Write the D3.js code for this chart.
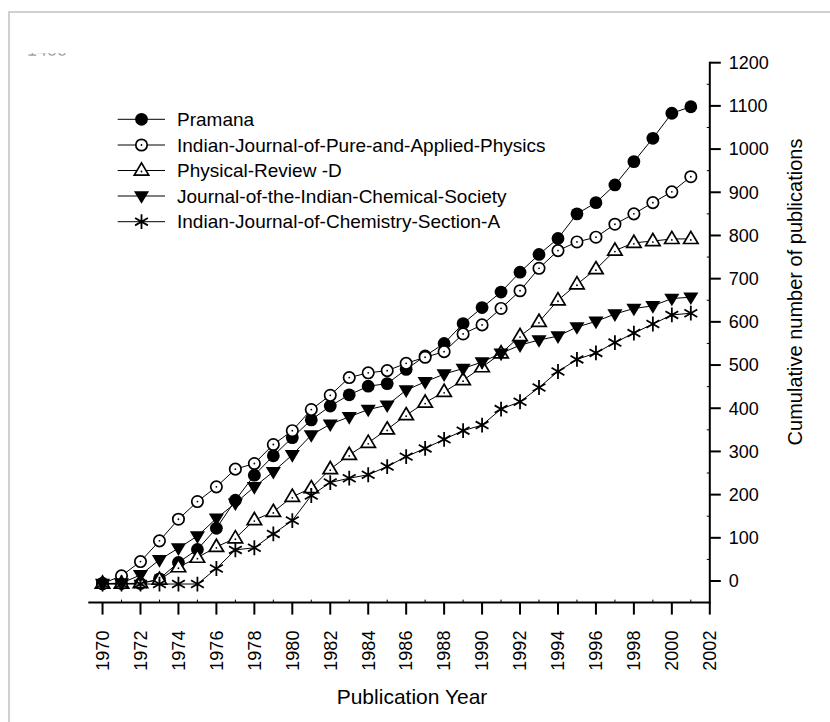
<!DOCTYPE html>
<html>
<head>
<meta charset="utf-8">
<script src="https://cdn.jsdelivr.net/npm/d3@7"></script>
<style>
  html, body { margin: 0; padding: 0; background: #fff; }
  svg { display: block; }
  text { font-family: "Liberation Sans", Arial, sans-serif; fill: #000; }
</style>
</head>
<body>
<svg id="chart" width="830" height="722"></svg>
<script>
// ---- data ----
const years = d3.range(1970, 2002);
const seriesNames = [
  "Pramana",
  "Indian-Journal-of-Pure-and-Applied-Physics",
  "Physical-Review -D",
  "Journal-of-the-Indian-Chemical-Society",
  "Indian-Journal-of-Chemistry-Section-A"
];
const pramana = [-6, -6, -6, 5, 43, 73, 122, 187, 245, 290, 332, 373, 405, 431, 451, 457,
  490, 521, 550, 596, 633, 669, 715, 756, 793, 850, 876, 917, 971, 1025, 1083, 1098];
const ijpap = [-6, 12, 45, 93, 143, 184, 218, 259, 272, 316, 348, 397, 430, 471, 482, 487,
  504, 518, 531, 572, 593, 631, 672, 724, 765, 785, 796, 826, 850, 876, 901, 936];
const prd = [-6, -6, -5, 3, 32, 54, 79, 99, 141, 160, 195, 215, 259, 292, 320, 351,
  384, 413, 438, 465, 495, 527, 567, 600, 650, 687, 722, 765, 783, 787, 792, 792];
const jics = [-6, -5, 14, 49, 76, 104, 145, 180, 218, 253, 292, 338, 363, 380, 397, 407,
  442, 461, 479, 492, 507, 527, 546, 558, 567, 588, 601, 618, 631, 637, 654, 657];
const ijca = [-7, -7, -7, -7, -7, -7, 29, 72, 77, 109, 140, 198, 228, 238, 246, 265,
  288, 307, 328, 348, 361, 398, 415, 448, 485, 513, 528, 552, 574, 595, 616, 620];
const markerTypes = ["filledCircle", "openCircle", "openTriangle", "filledDown", "asterisk"];
const yTicks = d3.range(0, 1201, 100);
const xTicks = d3.range(1970, 2003, 2);
const xTitle = "Publication Year";
const yTitle = "Cumulative number of publications";

const allSeries = [pramana, ijpap, prd, jics, ijca];

// ---- layout ----
const svg = d3.select("#chart");
const x = d3.scaleLinear().domain([1969.25, 2002]).range([88.3, 709.8]);
const y = d3.scaleLinear().domain([-50, 1200]).range([602.6, 62.7]);

// light frame
svg.append("rect").attr("x", 9).attr("y", 12).attr("width", 900).attr("height", 800)
  .attr("fill", "none").attr("stroke", "#d0d0d0").attr("stroke-width", 2);

// clipped top label remnant
const clip = svg.append("defs").append("clipPath").attr("id", "topclip");
clip.append("rect").attr("x", 0).attr("y", 53.2).attr("width", 120).attr("height", 2.5);
svg.append("text").attr("x", 27).attr("y", 55.5).attr("clip-path", "url(#topclip)")
  .style("font-size", "18px").style("fill", "#999").text("1400");

// ---- marker drawing ----
function drawMarker(g, type, cx, cy) {
  if (type === "filledCircle") {
    g.append("circle").attr("cx", cx).attr("cy", cy).attr("r", 6.4).attr("fill", "#000");
  } else if (type === "openCircle") {
    g.append("circle").attr("cx", cx).attr("cy", cy).attr("r", 5.7)
      .attr("fill", "#fff").attr("stroke", "#000").attr("stroke-width", 1.7);
    g.append("circle").attr("cx", cx).attr("cy", cy).attr("r", 0.9).attr("fill", "#000");
  } else if (type === "openTriangle") {
    const s = 7.6;
    const pts = [[cx, cy - s], [cx + s * 0.95, cy + s * 0.6], [cx - s * 0.95, cy + s * 0.6]];
    g.append("path").attr("d", d3.line()(pts) + "Z")
      .attr("fill", "#fff").attr("stroke", "#000").attr("stroke-width", 1.7).attr("stroke-linejoin", "miter");
    g.append("circle").attr("cx", cx).attr("cy", cy + 1).attr("r", 0.9).attr("fill", "#000");
  } else if (type === "filledDown") {
    const s = 7.8;
    const pts = [[cx, cy + s], [cx + s * 0.97, cy - s * 0.62], [cx - s * 0.97, cy - s * 0.62]];
    g.append("path").attr("d", d3.line()(pts) + "Z").attr("fill", "#000");
  } else if (type === "asterisk") {
    const r = 7.4, t = r / 2, u = t * Math.sqrt(3);
    const p = d3.path();
    p.moveTo(cx, cy - r); p.lineTo(cx, cy + r);
    p.moveTo(cx - u, cy - t); p.lineTo(cx + u, cy + t);
    p.moveTo(cx - u, cy + t); p.lineTo(cx + u, cy - t);
    g.append("path").attr("d", p.toString()).attr("stroke", "#000").attr("stroke-width", 1.8).attr("fill", "none");
  }
}

// ---- series ----
const line = d3.line().x(d => x(d[0])).y(d => y(d[1]));
allSeries.forEach((vals, i) => {
  const g = svg.append("g").attr("class", "series");
  const pts = years.map((yr, j) => [yr, vals[j]]);
  g.append("path").attr("d", line(pts)).attr("fill", "none").attr("stroke", "#000").attr("stroke-width", 1);
  pts.forEach(p => drawMarker(g, markerTypes[i], x(p[0]), y(p[1])));
});

// ---- axes ----
// x axis
const xAxisY = y(-50);
svg.append("line").attr("x1", x(1969.25)).attr("x2", x(2002) + 1).attr("y1", xAxisY).attr("y2", xAxisY)
  .attr("stroke", "#000").attr("stroke-width", 2);
xTicks.forEach(t => {
  svg.append("line").attr("x1", x(t)).attr("x2", x(t)).attr("y1", xAxisY).attr("y2", xAxisY + 12)
    .attr("stroke", "#000").attr("stroke-width", 2);
  svg.append("text").attr("transform", `translate(${x(t)},${xAxisY + 28}) rotate(-90)`)
    .attr("text-anchor", "end").attr("dy", "0.35em").style("font-size", "18px").text(t);
});
d3.range(1971, 2002, 2).forEach(t => {
  svg.append("line").attr("x1", x(t)).attr("x2", x(t)).attr("y1", xAxisY).attr("y2", xAxisY - 3)
    .attr("stroke", "#000").attr("stroke-width", 1);
});
// y axis
const yAxisX = x(2002);
svg.append("line").attr("x1", yAxisX).attr("x2", yAxisX).attr("y1", y(1200) - 1).attr("y2", xAxisY)
  .attr("stroke", "#000").attr("stroke-width", 2);
yTicks.forEach(t => {
  svg.append("line").attr("x1", yAxisX).attr("x2", yAxisX + 11).attr("y1", y(t)).attr("y2", y(t))
    .attr("stroke", "#000").attr("stroke-width", 2);
  svg.append("text").attr("x", yAxisX + 19).attr("y", y(t)).attr("dy", "0.35em")
    .style("font-size", "18px").text(t);
});
d3.range(-50, 1200, 100).forEach(t => {
  svg.append("line").attr("x1", yAxisX).attr("x2", yAxisX - 3).attr("y1", y(t)).attr("y2", y(t))
    .attr("stroke", "#000").attr("stroke-width", 1);
});

// titles
svg.append("text").attr("x", 412).attr("y", 704).attr("text-anchor", "middle")
  .style("font-size", "21px").text(xTitle);
svg.append("text").attr("transform", `translate(802,292) rotate(-90)`).attr("text-anchor", "middle")
  .style("font-size", "20px").text(yTitle);

// ---- legend ----
const legendY = [119.3, 145, 170.5, 196, 221.7];
seriesNames.forEach((name, i) => {
  const g = svg.append("g");
  const ly = legendY[i];
  g.append("line").attr("x1", 117.7).attr("x2", 165).attr("y1", ly).attr("y2", ly)
    .attr("stroke", "#000").attr("stroke-width", 1);
  drawMarker(g, markerTypes[i], 141.5, ly);
  g.append("text").attr("x", 177).attr("y", ly).attr("dy", "0.35em")
    .style("font-size", "19px").text(name);
});
</script>
</body>
</html>
